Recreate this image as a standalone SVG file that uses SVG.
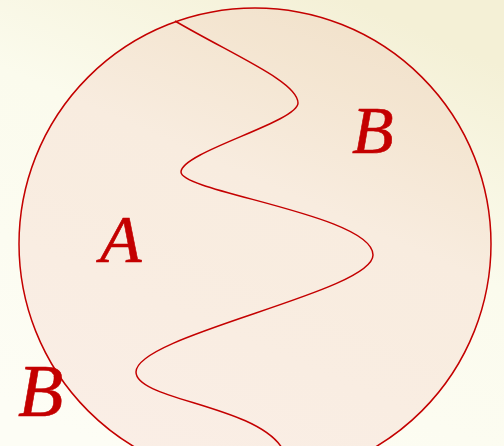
<svg xmlns="http://www.w3.org/2000/svg" width="504" height="446" viewBox="0 0 504 446">
<defs>
<linearGradient id="bg" x1="0.2" y1="1" x2="0.7" y2="0">
<stop offset="0" stop-color="#fdfdf5"/>
<stop offset="0.6" stop-color="#fbfbed"/>
<stop offset="1" stop-color="#f4f0d6"/>
</linearGradient>
<style>
.lbl{font-family:"Liberation Serif","DejaVu Serif",serif;font-style:italic;fill:#c40000;stroke:#c40000;stroke-width:0.6}
.ln{fill:none;stroke:#c40000;stroke-width:1.5}
</style>
</defs>
<rect width="504" height="446" fill="url(#bg)"/>
<g id="set">
<circle cx="255" cy="244" r="236" fill="#c80000" fill-opacity="0.06" stroke="#c40000" stroke-width="1.5"/>
</g>
<g id="connectors">
<path class="ln" d="M175,21 C235,56 298,82 298,103 C298,122 181,152 181,172 C181,192 373,215 373,255 C373,292 136,335 136,372 C136,400 255,405 282,448"/>
</g>
<g id="labelA"><text class="lbl" x="100" y="262" font-size="68">A</text></g>
<g id="labelB1"><text class="lbl" x="352" y="153" font-size="68">B</text></g>
<g id="labelB2"><text class="lbl" x="18" y="416" font-size="74">B</text></g>
</svg>
